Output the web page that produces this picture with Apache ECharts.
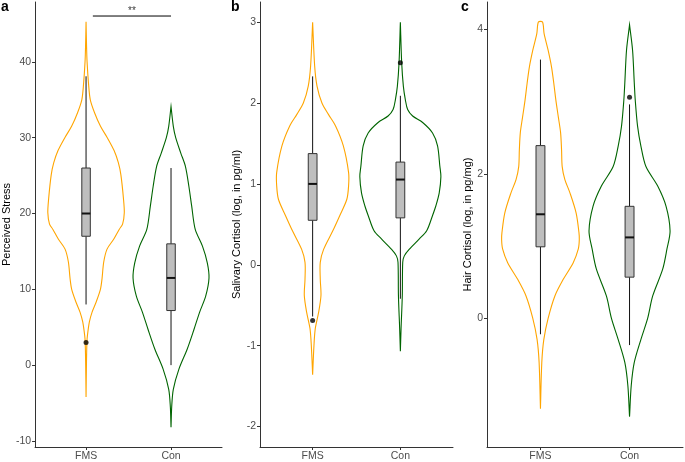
<!DOCTYPE html>
<html><head><meta charset="utf-8">
<script src="https://cdn.jsdelivr.net/npm/echarts@6/dist/echarts.min.js"></script>
<style>html,body{margin:0;padding:0;background:#fff}#c{width:685px;height:462px}</style>
</head><body><div id="c"></div>
<script>
// ---------- data ----------
const groups = ['FMS', 'Con'];
const panelLetters = ['a', 'b', 'c'];
const yTitles = ['Perceived Stress', 'Salivary Cortisol (log, in pg/ml)', 'Hair Cortisol (log, in pg/mg)'];
const yTicksA = [-10, 0, 10, 20, 30, 40];
const yTicksB = [-2, -1, 0, 1, 2, 3];
const yTicksC = [0, 2, 4];

// violin outlines: [value, half-width in x-axis units]
const violinA_FMS = [[45.3,0],[42,0.006],[40,0.012],[37,0.03],[35,0.05],[33.3,0.1],[31.5,0.17],[30,0.25],[28.3,0.33],[26.7,0.38],[25.1,0.41],[22,0.44],[20.1,0.45],[18.6,0.43],[17.9,0.39],[16.6,0.325],[15.3,0.247],[13.6,0.208],[11.4,0.188],[10,0.169],[8.3,0.118],[7,0.071],[5.7,0.039],[3.9,0.016],[3,0.01],[0.4,0.005],[-4.2,0]];
const violinA_Con = [[34.1,0],[31.5,0.027],[30,0.055],[28,0.114],[26.2,0.17],[23.6,0.21],[21,0.243],[17.9,0.285],[15.7,0.37],[13.5,0.427],[11.5,0.447],[9.1,0.408],[7,0.337],[4.7,0.27],[2.1,0.19],[-0.5,0.094],[-3.2,0.027],[-5.5,0.008],[-8.2,0]];
const violinB_FMS = [[3.0,0],[2.46,0.023],[2.21,0.05],[2.0,0.106],[1.86,0.18],[1.72,0.26],[1.47,0.35],[1.14,0.41],[0.98,0.41],[0.81,0.39],[0.61,0.31],[0.42,0.23],[0.19,0.125],[0.03,0.087],[-0.18,0.087],[-0.38,0.095],[-0.59,0.068],[-0.79,0.03],[-1.0,0.015],[-1.36,0]];
const violinB_Con = [[3.0,0],[2.5,0.015],[2.21,0.034],[2.04,0.057],[1.92,0.083],[1.84,0.14],[1.76,0.254],[1.63,0.367],[1.47,0.424],[1.22,0.45],[1.09,0.462],[0.89,0.443],[0.73,0.405],[0.61,0.367],[0.42,0.3],[0.32,0.216],[0.19,0.1],[0.11,0.045],[0.03,0.027],[-0.38,0.022],[-0.79,0.008],[-1.07,0]];
const violinC_FMS = [[4.1,0.023],[3.94,0.041],[3.71,0.086],[3.48,0.124],[3.25,0.15],[3.02,0.173],[2.79,0.2],[2.57,0.226],[2.33,0.237],[2.1,0.244],[1.92,0.274],[1.74,0.33],[1.46,0.4],[1.19,0.432],[1.09,0.436],[0.96,0.425],[0.77,0.368],[0.54,0.256],[0.31,0.162],[0,0.086],[-0.29,0.038],[-0.61,0.015],[-1.25,0]];
const violinC_Con = [[4.06,0],[3.71,0.034],[3.26,0.053],[3.02,0.064],[2.66,0.09],[2.38,0.128],[2.1,0.184],[1.83,0.316],[1.55,0.41],[1.21,0.455],[0.96,0.42],[0.68,0.372],[0.31,0.26],[0,0.203],[-0.29,0.128],[-0.61,0.053],[-0.93,0.019],[-1.36,0]];

// box stats per group: [x, lowerWhisker, q1, median, q3, upperWhisker]
const boxA = [[1, 8.0, 17.0, 20.0, 26.0, 38.1], [2, 0, 7.2, 11.5, 16.0, 26.0]];
const boxB = [[1, -0.64, 0.55, 1.0, 1.375, 2.33], [2, -0.42, 0.58, 1.054, 1.27, 2.09]];
const boxC = [[1, -0.22, 0.99, 1.44, 2.39, 3.58], [2, -0.37, 0.57, 1.12, 1.55, 2.96]];
const outliersA = [[1, 3.0]];
const outliersB = [[1, -0.69], [2, 2.50]];
const outliersC = [[2, 3.06]];
const sigA = [[1.08, 46.05], [2.0, 46.05]];
const sigLabel = '**';

// ---------- chart ----------
const colors = ['#FFA500', '#006400'];
const FONT = 'Liberation Sans, Arial, sans-serif';
const grids = [
  {left: 35, width: 187, top: 2, height: 446},
  {left: 260, width: 193, top: 2, height: 446},
  {left: 487, width: 196, top: 2, height: 446}
];
const yRanges = [[-10.8, 47.9], [-2.254, 3.25], [-1.78, 4.377]];
const yTicks = [yTicksA, yTicksB, yTicksC];
const nameGaps = [17, 17, 13];
const letterX = [1, 231, 461];

const axisLine = {show: true, onZero: false, lineStyle: {color: '#333', width: 1}};
const axisTick = (vals) => ({show: true, length: 3, customValues: vals, lineStyle: {color: '#333', width: 1}});

const xAxes = grids.map((g, i) => ({
  gridIndex: i, type: 'value', min: 0.4, max: 2.6,
  axisLine, axisTick: axisTick([1, 2]), splitLine: {show: false},
  axisLabel: {customValues: [1, 2], formatter: v => groups[Math.round(v) - 1], color: '#4D4D4D', fontSize: 10.5, fontFamily: FONT, margin: 4}
}));
const yAxes = grids.map((g, i) => ({
  gridIndex: i, type: 'value', min: yRanges[i][0], max: yRanges[i][1],
  axisLine, axisTick: axisTick(yTicks[i]), splitLine: {show: false},
  axisLabel: {customValues: yTicks[i], color: '#4D4D4D', fontSize: 10.5, fontFamily: FONT, margin: 4},
  name: yTitles[i], nameLocation: 'middle', nameRotate: 90, nameGap: nameGaps[i],
  nameTextStyle: {color: '#000', fontSize: 11, fontFamily: FONT}
}));

function violinSeries(idx, profiles) {
  return {
    type: 'custom', xAxisIndex: idx, yAxisIndex: idx, z: 2,
    data: profiles.map((p, i) => [i + 1, p[0][0]]),
    renderItem: (params, api) => {
      const i = params.dataIndex, cx = i + 1, prof = profiles[i];
      const right = prof.map(([v, w]) => api.coord([cx + w, v]));
      const left = prof.slice().reverse().map(([v, w]) => api.coord([cx - w, v]));
      return {type: 'polygon', shape: {points: right.concat(left), smooth: 0.3},
        style: {fill: 'none', stroke: colors[i], lineWidth: 1.1}};
    }
  };
}
function boxSeries(idx, data) {
  const half = 0.05;
  return {
    type: 'custom', xAxisIndex: idx, yAxisIndex: idx, z: 3, data,
    renderItem: (params, api) => {
      const x = api.value(0);
      const lw = api.coord([x, api.value(1)]), q1 = api.coord([x, api.value(2)]);
      const md = api.value(3), q3 = api.coord([x, api.value(4)]), uw = api.coord([x, api.value(5)]);
      const l = api.coord([x - half, md]), r = api.coord([x + half, md]);
      return {type: 'group', children: [
        {type: 'line', shape: {x1: uw[0], y1: uw[1], x2: q3[0], y2: q3[1]}, style: {stroke: '#111', lineWidth: 1}},
        {type: 'line', shape: {x1: q1[0], y1: q1[1], x2: lw[0], y2: lw[1]}, style: {stroke: '#111', lineWidth: 1}},
        {type: 'rect', shape: {x: l[0], y: q3[1], width: r[0] - l[0], height: q1[1] - q3[1]},
          style: {fill: '#BEBEBE', stroke: '#333', lineWidth: 1}},
        {type: 'line', shape: {x1: l[0], y1: l[1], x2: r[0], y2: r[1]}, style: {stroke: '#111', lineWidth: 2}}
      ]};
    }
  };
}
function outlierSeries(idx, data) {
  return {type: 'scatter', xAxisIndex: idx, yAxisIndex: idx, z: 4, data, symbolSize: 5,
    itemStyle: {color: '#000'}, silent: true};
}

const option = {
  animation: false,
  backgroundColor: '#fff',
  title: panelLetters.map((t, i) => ({text: t, left: letterX[i], top: 0, padding: 0,
    textStyle: {fontSize: 14, fontWeight: 'bold', color: '#000', fontFamily: FONT}})),
  grid: grids,
  xAxis: xAxes,
  yAxis: yAxes,
  series: [
    violinSeries(0, [violinA_FMS, violinA_Con]),
    violinSeries(1, [violinB_FMS, violinB_Con]),
    violinSeries(2, [violinC_FMS, violinC_Con]),
    boxSeries(0, boxA), boxSeries(1, boxB), boxSeries(2, boxC),
    outlierSeries(0, outliersA), outlierSeries(1, outliersB), outlierSeries(2, outliersC),
    {type: 'line', xAxisIndex: 0, yAxisIndex: 0, data: sigA, symbol: 'none', z: 5,
      lineStyle: {color: '#000', width: 1}, silent: true},
    {type: 'scatter', xAxisIndex: 0, yAxisIndex: 0, symbolSize: 0, z: 5,
      data: [[(sigA[0][0] + sigA[1][0]) / 2, sigA[0][1]]],
      label: {show: true, position: 'top', distance: 0, formatter: sigLabel, color: '#000', fontSize: 10, fontFamily: FONT}}
  ]
};
const chart = echarts.init(document.getElementById('c'), null, {renderer: 'canvas'});
chart.setOption(option);
</script></body></html>
